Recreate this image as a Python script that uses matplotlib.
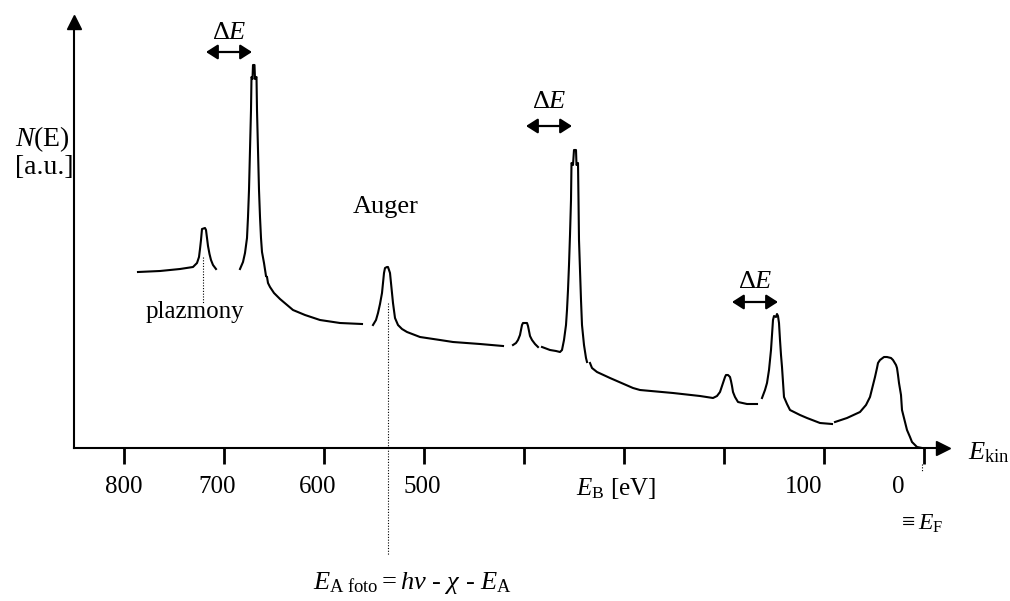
import numpy as np
import matplotlib
matplotlib.use("Agg")
import matplotlib.pyplot as plt
from matplotlib.transforms import ScaledTranslation

# ----- fonts -----
plt.rcParams['font.family'] = ['Liberation Serif', 'DejaVu Serif']
plt.rcParams['mathtext.fontset'] = 'custom'
plt.rcParams['mathtext.rm'] = 'Liberation Serif'
plt.rcParams['mathtext.it'] = 'Liberation Serif:italic'

# ----- data: schematic XPS spectrum, E_B [eV] vs N(E) [a.u.] -----
# plasmon satellite of first core level
plasmon1_E = [786, 764, 744, 731, 727, 725, 724, 723, 722, 719, 718, 717, 716, 714.5, 713, 711, 708]
plasmon1_N = [176, 177, 179, 181, 185, 191, 199, 208, 219, 220, 218, 210, 202, 194, 188, 183, 179]

# first core level peak
peak1_E = [684, 681, 679, 677, 676, 675, 674, 673, 672.5, 671.5, 671, 669.5, 669, 667.5,
           667, 666, 665, 664, 663, 662, 660, 658]
peak1_N = [179, 186, 195, 210, 231, 258, 298, 338, 371, 369, 383, 383, 369, 371,
           338, 298, 258, 231, 210, 196, 185, 172]
tail1_E = [657, 656, 654, 650, 644, 631, 619, 604, 584, 562]
tail1_N = [171, 165, 161, 155, 149, 138, 133, 128, 125, 124]

# Auger peak
auger_E = [551, 548, 546, 544, 542, 541, 540, 539, 537, 536, 535, 534, 533, 532, 531, 529,
           526, 522, 517, 504, 484, 471, 444, 421]
auger_N = [123, 128, 135, 144, 155, 165, 175, 180, 181, 181, 178, 175, 165, 155, 145, 130,
           123, 119, 116, 111, 108, 106, 104, 102]

# plasmon satellite of second core level
plasmon2_E = [411, 408, 406, 404, 403, 402, 401, 399, 397, 396, 395, 394, 392, 389, 386]
plasmon2_N = [103, 105, 108, 113, 118, 123, 125, 125, 125, 122, 117, 112, 108, 104, 101]

# second core level peak
peak2_E = [382, 374, 368, 364, 362, 360, 358, 357, 356, 355, 354, 353, 352.5, 351, 350, 348,
           347.5, 346, 345.5, 345, 344, 343, 342, 340, 338, 337]
peak2_N = [101, 98, 97, 96, 98, 108, 123, 138, 158, 183, 213, 248, 285, 283, 298, 298,
           283, 285, 248, 208, 178, 148, 123, 103, 90, 86]

# background + plasmon satellite of third core level
tail2_E = [334, 332, 327, 314, 291, 284, 251, 224, 211, 207, 204, 202, 200, 199, 198, 196,
           194, 193, 192, 191, 189, 186, 177, 167]
tail2_N = [85, 80, 76, 70, 60, 58, 55, 52, 50, 52, 56, 62, 68, 71, 73, 73,
           71, 67, 62, 56, 51, 46, 44, 44]

# third core level peak
peak3_E = [162, 159, 157, 155, 154, 153, 152, 151, 150, 148, 147, 146, 145, 144, 143, 142,
           140, 137, 134, 124, 117, 104, 92]
peak3_N = [50, 58, 65, 78, 88, 98, 113, 128, 132, 131, 134, 132, 125, 108, 93, 81,
           51, 44, 38, 33, 30, 25, 24]

# valence band
valence_E = [89, 77, 64, 58, 54, 51, 49, 47, 46, 44, 40, 37, 33, 31, 28, 27, 26, 25, 23,
             22, 19, 17, 14, 12, 7, 2]
valence_N = [26, 30, 36, 43, 51, 63, 71, 80, 85, 88, 91, 91, 90, 88, 83, 80, 73, 65, 53,
             38, 26, 18, 11, 6, 1, 0]

segments = [(plasmon1_E, plasmon1_N), (peak1_E, peak1_N), (tail1_E, tail1_N),
            (auger_E, auger_N), (plasmon2_E, plasmon2_N), (peak2_E, peak2_N),
            (tail2_E, tail2_N), (peak3_E, peak3_N), (valence_E, valence_N)]

# energy-loss arrows (plasmon -> core peak) and their height
loss_start = [718, 398, 192]
loss_end = [672, 352, 146]
loss_N = [396, 322, 146]
loss_label_N = [415, 346, 166]

tick_pos = [800, 700, 600, 500, 400, 300, 200, 100, 0]
tick_labels = ['800', '700', '600', '500', '', r'$E_{\mathrm{B}}$ [eV]', '', '100', '0']
tick_shift_px = [0, -7, -6, -2, 0, -8, 0, -20, -26]

# ----- figure -----
fig = plt.figure(figsize=(10.1, 6.01), dpi=100)
ax = fig.add_axes([74 / 1010, 1 - 448 / 601, (943 - 74) / 1010, (448 - 22) / 601])

for E, N in segments:
    ax.plot(E, N, color='k', lw=1.5)

ax.set_xlim(850, -19)
ax.set_ylim(0, 426)

for side in ['top', 'right']:
    ax.spines[side].set_visible(False)
ax.spines['left'].set_linewidth(1.5)
ax.spines['bottom'].set_linewidth(1.5)

# axis arrow heads
ax.plot(1, 0, '>', color='k', ms=10, transform=ax.transAxes, clip_on=False)
ax.plot(0, 1, '^', color='k', ms=9.5, transform=ax.transAxes, clip_on=False)

ax.set_yticks([])
ax.set_xticks(tick_pos)
ax.set_xticklabels(tick_labels, fontsize=18)
ax.tick_params(axis='x', direction='out', length=11.5, width=2, pad=9)
for lab, dx in zip(ax.get_xticklabels(), tick_shift_px):
    lab.set_transform(lab.get_transform() + ScaledTranslation(dx / 100, 0, fig.dpi_scale_trans))

# delta E arrows
for e0, e1, n, nl in zip(loss_start, loss_end, loss_N, loss_label_N):
    ax.annotate('', xy=(e1, n), xytext=(e0, n),
                arrowprops=dict(arrowstyle='<|-|>,head_length=0.5,head_width=0.32',
                                mutation_scale=14, lw=1.6, color='k',
                                shrinkA=0, shrinkB=0))
    ax.text((e0 + e1) / 2, nl, r'$\Delta E$', ha='center', va='center', fontsize=19)

# dotted guide lines
ax.plot([721, 721], [191, 145], ls=(0, (1, 1.5)), lw=0.8, color='k')
ax.plot([536, 536], [145, -107], ls=(0, (1, 1.5)), lw=0.8, color='k', clip_on=False)
ax.plot([2, 2], [-16, -24], ls=(0, (1, 1.5)), lw=0.8, color='k', clip_on=False)

# labels
ax.text(538, 241, 'Auger', ha='center', va='center', fontsize=19)
ax.text(729, 136, 'plazmony', ha='center', va='center', fontsize=18)
ax.text(882, 309, r'$N$(E)', ha='center', va='center', fontsize=20)
ax.text(880, 280, '[a.u.]', ha='center', va='center', fontsize=20)
ax.text(-44, -5, r'$E_{\mathrm{kin}}$', ha='left', va='center', fontsize=19)
ax.text(3, -76, r'$\equiv E_{\mathrm{F}}$', ha='center', va='center', fontsize=17)
ax.text(512, -141, r'$E_{\mathrm{A\ foto}} = h\nu$ - $\chi$ - $E_{\mathrm{A}}$',
        ha='center', va='baseline', fontsize=19)

plt.savefig('out.png', dpi=100)
